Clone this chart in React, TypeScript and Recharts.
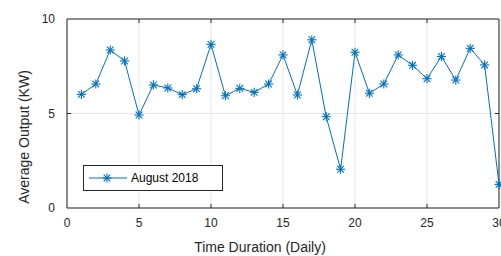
import React from "react";
import {
  LineChart,
  Line,
  XAxis,
  YAxis,
  CartesianGrid,
  ReferenceArea,
  Label,
} from "recharts";

const days: number[] = [
  1, 2, 3, 4, 5, 6, 7, 8, 9, 10, 11, 12, 13, 14, 15, 16, 17, 18, 19, 20, 21, 22,
  23, 24, 25, 26, 27, 28, 29, 30,
];
const august2018: number[] = [
  6.01, 6.56, 8.36, 7.78, 4.92, 6.51, 6.35, 6.0, 6.31, 8.66, 5.94, 6.33, 6.12,
  6.56, 8.1, 5.98, 8.9, 4.83, 2.05, 8.24, 6.07, 6.56, 8.1, 7.55, 6.84, 8.02,
  6.77, 8.45, 7.57, 1.25,
];
const xTicks: number[] = [0, 5, 10, 15, 20, 25, 30];
const yTicks: number[] = [0, 5, 10];
const seriesName = "August 2018";
const xLabel = "Time Duration (Daily)";
const yLabel = "Average Output (KW)";

const data = days.map((d, i) => ({ day: d, value: august2018[i] }));

const BLUE = "#0072BD";
const AXIS = "#262626";
const FONT = "'Liberation Sans', Arial, Helvetica, sans-serif";

const Asterisk = (props: any) => {
  const { cx, cy } = props;
  if (cx == null || cy == null) return null;
  const r = 4.6;
  const d = r * 0.72;
  return (
    <g stroke={BLUE} strokeWidth={1.1}>
      <line x1={cx - r} y1={cy} x2={cx + r} y2={cy} />
      <line x1={cx} y1={cy - r} x2={cx} y2={cy + r} />
      <line x1={cx - d} y1={cy - d} x2={cx + d} y2={cy + d} />
      <line x1={cx - d} y1={cy + d} x2={cx + d} y2={cy - d} />
    </g>
  );
};

const XTick = (props: any) => {
  const { x, y, payload } = props;
  const axisY = y - 10;
  return (
    <g>
      {payload.value !== 0 && payload.value !== 30 && (
        <>
          <line x1={x} y1={axisY} x2={x} y2={axisY - 4} stroke={AXIS} />
          <line x1={x} y1={19} x2={x} y2={23} stroke={AXIS} />
        </>
      )}
      <text
        x={x}
        y={y}
        dy="0.75em"
        textAnchor="middle"
        fill={AXIS}
        fontSize={12}
        fontFamily={FONT}
      >
        {payload.value}
      </text>
    </g>
  );
};

const YTick = (props: any) => {
  const { x, y, payload } = props;
  const axisX = x + 12;
  return (
    <g>
      {payload.value !== 0 && payload.value !== 10 && (
        <>
          <line x1={axisX} y1={y} x2={axisX + 4} y2={y} stroke={AXIS} />
          <line x1={499} y1={y} x2={495} y2={y} stroke={AXIS} />
        </>
      )}
      <text
        x={x}
        y={y}
        dy="0.35em"
        textAnchor="end"
        fill={AXIS}
        fontSize={12}
        fontFamily={FONT}
      >
        {payload.value}
      </text>
    </g>
  );
};

const LegendBox = () => (
  <svg width={141} height={26} style={{ display: "block" }}>
    <rect x={0.5} y={0.5} width={139} height={25} fill="#fff" stroke={AXIS} />
    <line x1={6} y1={13} x2={44} y2={13} stroke={BLUE} strokeWidth={1} />
    <Asterisk cx={24} cy={13} />
    <text
      x={48}
      y={13}
      dy="0.35em"
      fill="#000"
      fontSize={12}
      fontFamily={FONT}
    >
      {seriesName}
    </text>
  </svg>
);

export default function App() {
  return (
    <div
      style={{
        position: "absolute",
        left: 0,
        top: 0,
        width: 501,
        height: 256,
        background: "#fff",
      }}
    >
      <LineChart
        width={501}
        height={256}
        data={data}
        margin={{ top: 19, right: 2, bottom: 0, left: 0 }}
      >
        <CartesianGrid stroke="#e6e6e6" strokeWidth={1} />
        <XAxis
          dataKey="day"
          type="number"
          domain={[0, 30]}
          ticks={xTicks}
          interval={0}
          height={48}
          tickSize={0}
          tickMargin={10}
          axisLine={false}
          tickLine={false}
          tick={<XTick />}
        >
          <Label
            content={() => (
              <text
                x={260}
                y={247}
                dy="0.35em"
                textAnchor="middle"
                fill={AXIS}
                fontSize={14}
                fontFamily={FONT}
              >
                {xLabel}
              </text>
            )}
          />
        </XAxis>
        <YAxis
          type="number"
          domain={[0, 10]}
          ticks={yTicks}
          interval={0}
          width={67}
          tickSize={0}
          tickMargin={12}
          axisLine={false}
          tickLine={false}
          tick={<YTick />}
        >
          <Label
            content={() => (
              <text
                x={24}
                y={137}
                dy="0.35em"
                textAnchor="middle"
                transform="rotate(-90 24 137)"
                fill={AXIS}
                fontSize={14}
                fontFamily={FONT}
              >
                {yLabel}
              </text>
            )}
          />
        </YAxis>
        <ReferenceArea
          x1={0}
          x2={30}
          y1={0}
          y2={10}
          fill="none"
          stroke={AXIS}
          strokeWidth={1}
          ifOverflow="visible"
        />
        <Line
          type="linear"
          dataKey="value"
          name={seriesName}
          stroke={BLUE}
          strokeWidth={1}
          dot={<Asterisk />}
          activeDot={false}
          isAnimationActive={false}
        />
      </LineChart>
      <div style={{ position: "absolute", left: 83, top: 165 }}>
        <LegendBox />
      </div>
    </div>
  );
}
